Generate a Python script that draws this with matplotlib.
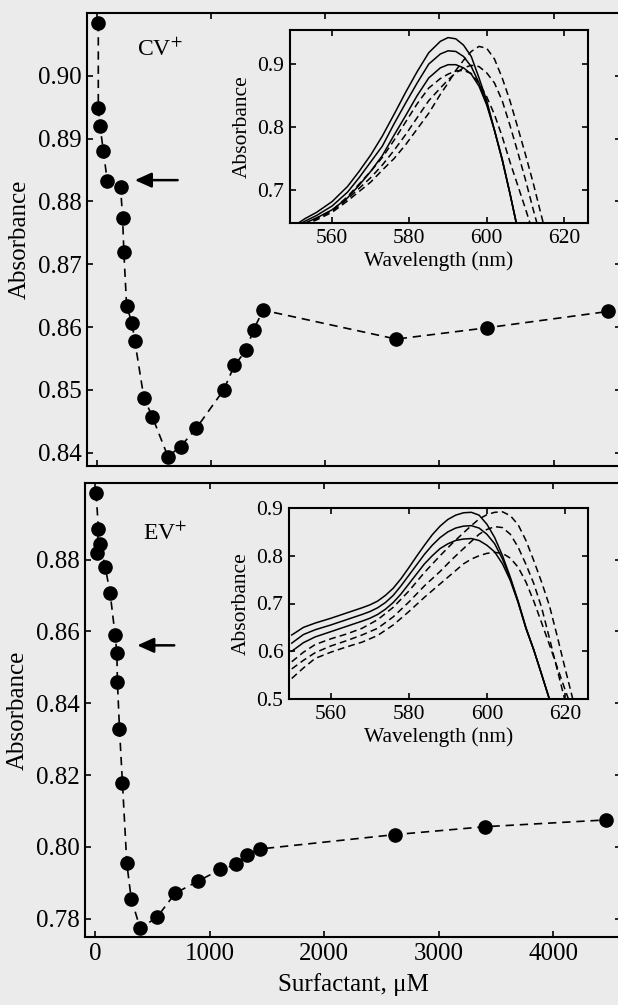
import matplotlib
matplotlib.use("Agg")
import matplotlib.pyplot as plt

plt.rcParams['font.family'] = ['Liberation Serif', 'DejaVu Serif']
plt.rcParams['mathtext.fontset'] = 'stix'

# ---------------- data: main panels ----------------
cv_conc = [11, 11, 26, 55, 90, 206, 224, 235, 259, 305, 331, 410, 485, 621, 732, 869,
           1109, 1203, 1305, 1371, 1455, 2621, 3416, 4477]
cv_abs = [0.9084, 0.8949, 0.8920, 0.8881, 0.8832, 0.8823, 0.8774, 0.8719, 0.8634, 0.8607,
          0.8578, 0.8488, 0.8457, 0.8394, 0.8410, 0.8439, 0.8500, 0.8539, 0.8563, 0.8596,
          0.8627, 0.8581, 0.8599, 0.8625]

ev_conc = [9, 29, 15, 44, 88, 131, 175, 190, 195, 213, 239, 277, 315, 394, 540, 700, 895,
           1094, 1234, 1322, 1438, 2614, 3400, 4463]
ev_abs = [0.8985, 0.8885, 0.8818, 0.8842, 0.8780, 0.8707, 0.8589, 0.8540, 0.8459, 0.8328,
          0.8177, 0.7954, 0.7856, 0.7773, 0.7804, 0.7871, 0.7904, 0.7937, 0.7951, 0.7977,
          0.7994, 0.8034, 0.8056, 0.8075]

# ---------------- data: CV+ spectra (inset, top) ----------------
cv_wl_s = [550, 553, 556, 560, 564, 567, 570, 573, 576, 579, 582, 585, 588, 590, 592, 594,
           596, 598, 600, 602, 604, 606, 608, 610]
cv_s1 = [0.643, 0.655, 0.665, 0.682, 0.706, 0.730, 0.756, 0.786, 0.820, 0.855, 0.888, 0.918,
         0.936, 0.942, 0.940, 0.930, 0.912, 0.878, 0.842, 0.795, 0.750, 0.695, 0.638, 0.580]
cv_s2 = [0.641, 0.651, 0.660, 0.675, 0.697, 0.720, 0.745, 0.770, 0.805, 0.838, 0.870, 0.900,
         0.916, 0.921, 0.920, 0.912, 0.896, 0.870, 0.838, 0.795, 0.748, 0.695, 0.638, 0.580]
cv_s3 = [0.639, 0.648, 0.656, 0.669, 0.688, 0.708, 0.730, 0.755, 0.787, 0.818, 0.850, 0.878,
         0.894, 0.899, 0.899, 0.894, 0.884, 0.865, 0.835, 0.795, 0.748, 0.695, 0.638, 0.580]
cv_wl_d = [550, 553, 556, 560, 564, 567, 570, 573, 576, 579, 582, 585, 588, 590, 592, 594,
           596, 598, 600, 602, 604, 606, 608, 610, 612, 614, 616]
cv_d1 = [0.636, 0.645, 0.653, 0.665, 0.683, 0.698, 0.713, 0.732, 0.750, 0.772, 0.797, 0.822,
         0.852, 0.870, 0.890, 0.906, 0.920, 0.928, 0.925, 0.908, 0.878, 0.842, 0.800, 0.757,
         0.712, 0.663, 0.615]
cv_d2 = [0.637, 0.646, 0.655, 0.667, 0.686, 0.703, 0.720, 0.740, 0.763, 0.788, 0.815, 0.842,
         0.862, 0.875, 0.886, 0.894, 0.898, 0.896, 0.886, 0.870, 0.842, 0.803, 0.761, 0.717,
         0.670, 0.625, 0.580]
cv_d3 = [0.638, 0.647, 0.656, 0.668, 0.690, 0.710, 0.730, 0.752, 0.779, 0.808, 0.837, 0.862,
         0.877, 0.884, 0.889, 0.890, 0.885, 0.870, 0.848, 0.820, 0.785, 0.745, 0.708, 0.671,
         0.632, 0.595, 0.560]

# ---------------- data: EV+ spectra (inset, bottom) ----------------
ev_wl_s = [550, 553, 556, 560, 564, 568, 570, 572, 574, 576, 578, 580, 582, 584, 586, 588,
           590, 592, 594, 596, 598, 600, 602, 604, 606, 608, 610, 612, 614, 616, 617]
ev_s1 = [0.634, 0.650, 0.659, 0.669, 0.680, 0.691, 0.697, 0.705, 0.717, 0.732, 0.752, 0.775,
         0.799, 0.822, 0.844, 0.862, 0.876, 0.885, 0.890, 0.891, 0.885, 0.866, 0.838, 0.800,
         0.755, 0.705, 0.650, 0.603, 0.552, 0.500, 0.475]
ev_s2 = [0.617, 0.635, 0.645, 0.655, 0.666, 0.677, 0.683, 0.691, 0.702, 0.717, 0.737, 0.759,
         0.781, 0.803, 0.822, 0.838, 0.850, 0.858, 0.862, 0.863, 0.858, 0.845, 0.825, 0.793,
         0.752, 0.703, 0.648, 0.603, 0.552, 0.500, 0.475]
ev_s3 = [0.600, 0.618, 0.630, 0.641, 0.652, 0.663, 0.669, 0.677, 0.688, 0.702, 0.720, 0.741,
         0.762, 0.783, 0.800, 0.815, 0.825, 0.832, 0.835, 0.836, 0.832, 0.822, 0.808, 0.783,
         0.748, 0.702, 0.648, 0.603, 0.552, 0.500, 0.475]
ev_wl_d = [550, 553, 556, 560, 564, 568, 572, 576, 580, 584, 588, 591, 594, 596, 598, 600,
           602, 604, 606, 608, 610, 612, 614, 616, 618, 620, 622, 624]
ev_d1 = [0.578, 0.598, 0.614, 0.626, 0.636, 0.648, 0.666, 0.692, 0.726, 0.765, 0.800, 0.825,
         0.848, 0.863, 0.877, 0.886, 0.891, 0.892, 0.884, 0.865, 0.832, 0.790, 0.745, 0.696,
         0.632, 0.565, 0.500, 0.440]
ev_d2 = [0.563, 0.581, 0.597, 0.611, 0.622, 0.634, 0.648, 0.672, 0.703, 0.737, 0.767, 0.792,
         0.815, 0.830, 0.845, 0.855, 0.861, 0.859, 0.845, 0.818, 0.782, 0.742, 0.692, 0.628,
         0.562, 0.497, 0.440, 0.400]
ev_d3 = [0.543, 0.565, 0.585, 0.598, 0.609, 0.619, 0.633, 0.655, 0.683, 0.713, 0.741, 0.762,
         0.783, 0.793, 0.800, 0.805, 0.807, 0.805, 0.795, 0.776, 0.745, 0.705, 0.660, 0.614,
         0.567, 0.520, 0.475, 0.430]

main_xticks = [0, 1000, 2000, 3000, 4000]
cv_yticks = [0.84, 0.85, 0.86, 0.87, 0.88, 0.89, 0.90]
ev_yticks = [0.78, 0.80, 0.82, 0.84, 0.86, 0.88]
inset_xticks = [560, 580, 600, 620]
cv_inset_yticks = [0.7, 0.8, 0.9]
ev_inset_yticks = [0.5, 0.6, 0.7, 0.8, 0.9]

# ---------------- figure ----------------
BG = '#ebebeb'
W, H = 618, 1005
fig = plt.figure(figsize=(W / 100, H / 100), dpi=100, facecolor=BG)


def frac(left, top, right, bottom):
    return [left / W, 1 - bottom / H, (right - left) / W, (bottom - top) / H]


def style(ax, size, lw=1.5):
    ax.set_facecolor(BG)
    for s in ax.spines.values():
        s.set_linewidth(lw)
    ax.tick_params(which='both', direction='in', top=True, right=True,
                   length=4.5, width=1.2, labelsize=size, pad=4)


ax1 = fig.add_axes(frac(87, 13, 621, 466))
ax2 = fig.add_axes(frac(85, 483, 621, 937))

for ax, xs, ys, yt in ((ax1, cv_conc, cv_abs, cv_yticks), (ax2, ev_conc, ev_abs, ev_yticks)):
    style(ax, 18)
    ax.plot(xs, ys, color='k', lw=1.2, dashes=(5, 3.5), marker='o', ms=9.5,
            mfc='k', mec='k', clip_on=False, zorder=3)
    ax.set_xlim(-88, 4590)
    ax.set_xticks(main_xticks)
    ax.set_yticks(yt)
    ax.set_yticklabels([f'{v:.2f}' for v in yt])
    ax.set_ylabel('Absorbance', fontsize=18, labelpad=5)

ax1.set_ylim(0.8379, 0.9100)
ax1.tick_params(labelbottom=False)
ax2.set_ylim(0.7749, 0.9013)
ax2.set_xticklabels([str(v) for v in main_xticks])
ax2.set_xlabel('Surfactant, \u03bcM', fontsize=18, labelpad=6)

ax1.text(349, 0.9041, 'CV$^{+}$', fontsize=17, va='center', ha='left')
ax2.text(420, 0.8871, 'EV$^{+}$', fontsize=17, va='center', ha='left')

arrow = dict(arrowstyle='-|>,head_length=1.0,head_width=0.45', lw=1.8, color='k',
             mutation_scale=10, shrinkA=0, shrinkB=0)
ax1.annotate('', xy=(331, 0.8834), xytext=(706, 0.8834), arrowprops=arrow)
ax2.annotate('', xy=(368, 0.8561), xytext=(691, 0.8561), arrowprops=arrow)

# ---------------- insets ----------------
in1 = fig.add_axes(frac(290, 30, 588, 223))
in2 = fig.add_axes(frac(289, 508, 588, 699))

dash = (0, (4.5, 2.7))
for ax, wls, sol, wld, das, yt, ylim, xlim in (
        (in1, cv_wl_s, (cv_s1, cv_s2, cv_s3), cv_wl_d, (cv_d1, cv_d2, cv_d3),
         cv_inset_yticks, (0.648, 0.954), (549.1, 626.2)),
        (in2, ev_wl_s, (ev_s1, ev_s2, ev_s3), ev_wl_d, (ev_d1, ev_d2, ev_d3),
         ev_inset_yticks, (0.5, 0.9), (549.3, 625.9))):
    style(ax, 15.5)
    for s in sol:
        ax.plot(wls, s, color='k', lw=1.1)
    for d in das:
        ax.plot(wld, d, color='k', lw=1.1, linestyle=dash)
    ax.set_xlim(*xlim)
    ax.set_ylim(*ylim)
    ax.set_xticks(inset_xticks)
    ax.set_yticks(yt)
    ax.set_yticklabels([f'{v:.1f}' for v in yt])
    ax.set_xlabel('Wavelength (nm)', fontsize=15.5, labelpad=3)
    ax.set_ylabel('Absorbance', fontsize=15.5, labelpad=4)

fig.savefig('out.png', dpi=100, facecolor=BG)
